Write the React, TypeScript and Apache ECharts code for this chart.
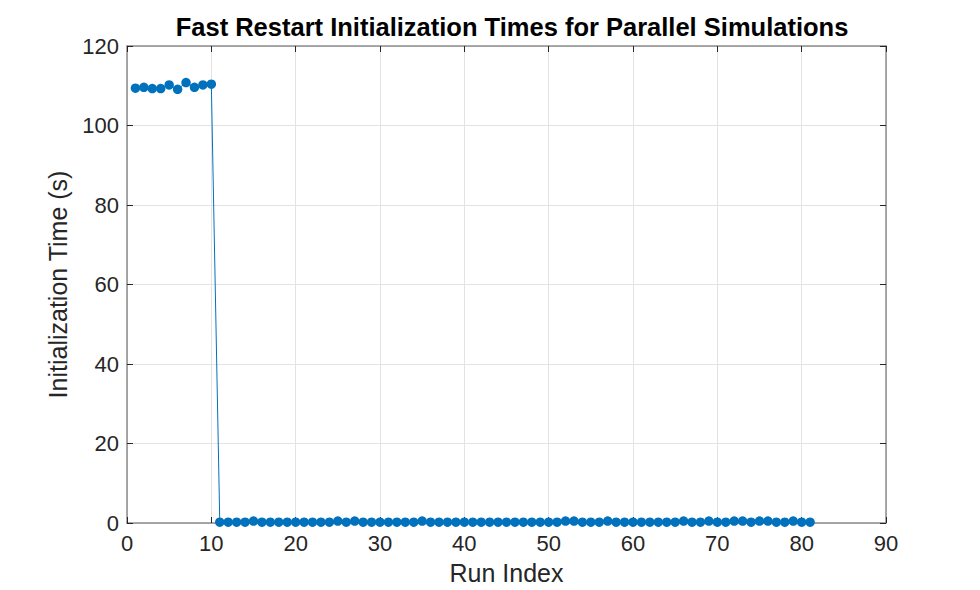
import React, { useEffect, useRef } from 'react';
import * as echarts from 'echarts';

const runIndex: number[] = Array.from({ length: 81 }, (_, i) => i + 1);

// runs 1-10: cold start, no fast restart
const coldTimes: number[] = [109.4, 109.6, 109.3, 109.3, 110.2, 109.1, 110.8, 109.6, 110.2, 110.4];

// runs 11-81: fast restart
const fastTimes: number[] = [
  0.2, 0.2, 0.2, 0.2, 0.5, 0.2, 0.2, 0.2, 0.2, 0.2,
  0.2, 0.2, 0.2, 0.2, 0.5, 0.2, 0.5, 0.2, 0.2, 0.2,
  0.2, 0.2, 0.2, 0.2, 0.5, 0.2, 0.2, 0.2, 0.2, 0.2,
  0.2, 0.2, 0.2, 0.2, 0.2, 0.2, 0.2, 0.2, 0.2, 0.2,
  0.2, 0.5, 0.5, 0.2, 0.2, 0.2, 0.5, 0.2, 0.2, 0.2,
  0.2, 0.2, 0.2, 0.2, 0.2, 0.5, 0.2, 0.2, 0.5, 0.2,
  0.2, 0.5, 0.5, 0.2, 0.5, 0.5, 0.2, 0.2, 0.5, 0.2,
  0.2,
];

const initTimes: number[] = [...coldTimes, ...fastTimes];

const xTicks = { min: 0, max: 90, interval: 10 };
const yTicks = { min: 0, max: 120, interval: 20 };

const FONT = 'Arial, "Liberation Sans", Helvetica, sans-serif';
const BLUE = '#0072BD';
const AXIS_GRAY = '#8c8c8c';
const TICK_DARK = '#262626';

const App: React.FC = () => {
  const chartRef = useRef<HTMLDivElement>(null);

  useEffect(() => {
    document.body.style.margin = '0';
    const chart = echarts.init(chartRef.current!, undefined, { renderer: 'svg' });

    // box edges (top / right) with inward ticks, no labels
    const hiddenSide = {
      axisLabel: { show: false },
      splitLine: { show: false },
      axisLine: { show: true, onZero: false, lineStyle: { color: AXIS_GRAY, width: 1.5 } },
      axisTick: { show: true, inside: true, length: 6, lineStyle: { color: TICK_DARK } },
    };

    const option = {
      animation: false,
      backgroundColor: '#ffffff',
      title: {
        text: 'Fast Restart Initialization Times for Parallel Simulations',
        left: 507,
        textAlign: 'center',
        top: 9,
        textStyle: { fontFamily: FONT, fontSize: 25.5, fontWeight: 'bold', color: '#000' },
      },
      grid: { left: 127, right: 94, top: 46, bottom: 63, containLabel: false },
      xAxis: [
        {
          type: 'value',
          ...xTicks,
          name: 'Run Index',
          nameLocation: 'middle',
          nameGap: 37,
          nameTextStyle: { fontFamily: FONT, fontSize: 25, color: TICK_DARK },
          axisLabel: { fontFamily: FONT, fontSize: 22, color: TICK_DARK, margin: 9 },
          axisLine: { show: true, onZero: false, lineStyle: { color: AXIS_GRAY, width: 1.5 } },
          axisTick: { show: true, inside: true, length: 6, lineStyle: { color: TICK_DARK } },
          splitLine: { show: true, lineStyle: { color: '#e3e3e3', width: 1 } },
        },
        { type: 'value', position: 'top', ...xTicks, ...hiddenSide },
      ],
      yAxis: [
        {
          type: 'value',
          ...yTicks,
          name: 'Initialization Time (s)',
          nameLocation: 'middle',
          nameGap: 57,
          nameTextStyle: { fontFamily: FONT, fontSize: 25, color: TICK_DARK },
          axisLabel: { fontFamily: FONT, fontSize: 22, color: TICK_DARK, margin: 8 },
          axisLine: { show: true, onZero: false, lineStyle: { color: AXIS_GRAY, width: 1.5 } },
          axisTick: { show: true, inside: true, length: 6, lineStyle: { color: TICK_DARK } },
          splitLine: { show: true, lineStyle: { color: '#e3e3e3', width: 1 } },
        },
        { type: 'value', position: 'right', ...yTicks, ...hiddenSide },
      ],
      series: [
        {
          type: 'line',
          data: runIndex.map((r, i) => [r, initTimes[i]]),
          symbol: 'circle',
          symbolSize: 9.5,
          showAllSymbol: true,
          lineStyle: { color: BLUE, width: 1 },
          itemStyle: { color: BLUE },
          z: 5,
        },
      ],
    };

    chart.setOption(option);

    const handleResize = () => chart.resize();
    window.addEventListener('resize', handleResize);

    return () => {
      chart.dispose();
      window.removeEventListener('resize', handleResize);
    };
  }, []);

  return <div ref={chartRef} style={{ width: '980px', height: '590px' }} />;
};

export default App;
